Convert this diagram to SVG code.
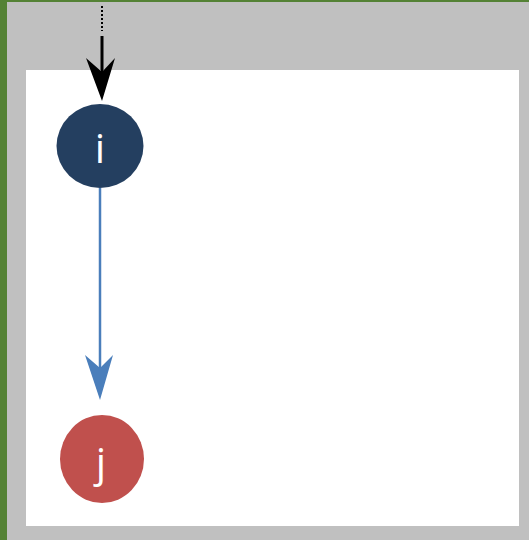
<svg xmlns="http://www.w3.org/2000/svg" width="529" height="540" viewBox="0 0 529 540">
<style>
.lbl{font-family:"Open Sans","Liberation Sans",sans-serif;font-size:41px;fill:#ffffff;text-anchor:middle}
</style>
<rect x="0" y="0" width="529" height="540" fill="#548235"/>
<rect x="7" y="2" width="522" height="538" fill="#c0c0c0"/>
<rect x="26" y="70" width="493" height="456" fill="#ffffff"/>
<g id="connectors">
<line x1="102" y1="6" x2="102" y2="31" stroke="#000" stroke-width="2" stroke-dasharray="2,2"/>
<line x1="102" y1="36" x2="102" y2="80" stroke="#000" stroke-width="3"/>
<path d="M102,101 L86,58 L102,72 L115,58 Z" fill="#000"/>
<line x1="100" y1="188" x2="100" y2="380" stroke="#4a7ebb" stroke-width="2.5"/>
<path d="M100,400 L85,355 L100,368 L113,355 Z" fill="#4a7ebb"/>
</g>
<g id="node-i">
<ellipse cx="100" cy="146" rx="43.5" ry="42" fill="#243f60"/>
<text class="lbl" x="100" y="163">i</text>
</g>
<g id="node-j">
<ellipse cx="102" cy="459" rx="42" ry="44" fill="#c0504d"/>
<text class="lbl" x="101" y="477">j</text>
</g>
</svg>
